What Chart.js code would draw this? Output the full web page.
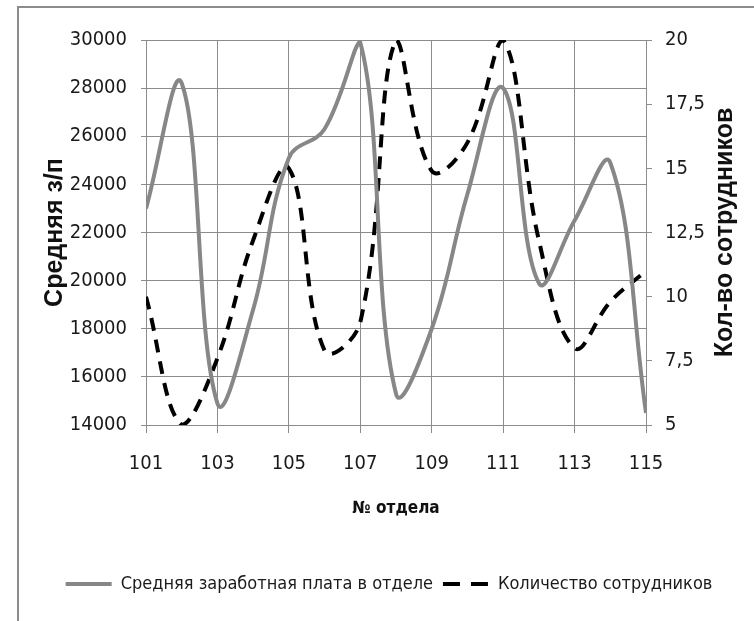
<!DOCTYPE html>
<html>
<head>
<meta charset="utf-8">
<script src="https://cdn.jsdelivr.net/npm/chart.js@4.4.1/dist/chart.umd.min.js"></script>
<style>
  html, body { margin: 0; padding: 0; background: #fff; }
  #wrap { position: relative; width: 754px; height: 621px; }
  #frame {
    position: absolute; left: 17px; top: 6px; right: -4px; bottom: -4px;
    border-left: 2px solid #8c8c8c; border-top: 2px solid #8c8c8c;
  }
  canvas { position: absolute; left: 0; top: 0; }
</style>
</head>
<body>
<div id="wrap">
  <div id="frame"></div>
  <canvas id="chart" width="754" height="621"></canvas>
</div>
<script>
// Department numbers and the two series
const departments = [101, 102, 103, 104, 105, 106, 107, 108, 109, 110, 111, 112, 113, 114, 115];
const salary = [23000, 28200, 14900, 18800, 25100, 26300, 29900, 15300, 18000, 23600, 28000, 19900, 22500, 24900, 14500];
const staff = [10, 5, 7.6, 12.2, 15, 7.9, 9, 20, 14.9, 16, 20, 12.2, 8, 9.8, 11];

const seriesNames = ['Средняя заработная плата в отделе', 'Количество сотрудников'];
const axisTitles = { x: '№ отдела', left: 'Средняя з/п', right: 'Кол-во сотрудников' };

const NARROW = "'DejaVu Sans Condensed', 'DejaVu Sans', sans-serif";
const WIDE = "'Liberation Sans', Arial, sans-serif";
const GRID = '#8c8c8c';
const TEXT = '#1a1a1a';

// Turn 17.5 into 17,5
const commaNumber = (v) => String(v).replace('.', ',');

const toPoints = (values) => departments.map((d, i) => ({ x: d, y: values[i] }));

// Right axis title reads bottom-to-top like the left one
const rightTitle = {
  id: 'rightTitle',
  afterDraw(chart) {
    const { ctx, chartArea } = chart;
    const scale = chart.scales.y1;
    ctx.save();
    ctx.translate(scale.right - 29, (chartArea.top + chartArea.bottom) / 2);
    ctx.rotate(-Math.PI / 2);
    ctx.textAlign = 'center';
    ctx.textBaseline = 'middle';
    ctx.fillStyle = '#111';
    ctx.font = `bold 25px ${WIDE}`;
    ctx.fillText(axisTitles.right, 0, 0);
    ctx.restore();
  },
};

new Chart(document.getElementById('chart'), {
  type: 'line',
  data: {
    datasets: [
      {
        label: seriesNames[0],
        data: toPoints(salary),
        yAxisID: 'y',
        borderColor: '#878787',
        backgroundColor: '#878787',
        borderWidth: 4,
        pointRadius: 0,
        tension: 0.4,
      },
      {
        label: seriesNames[1],
        data: toPoints(staff),
        yAxisID: 'y1',
        borderColor: '#000',
        backgroundColor: '#000',
        borderWidth: 4,
        borderDash: [13, 9],
        pointRadius: 0,
        tension: 0.4,
      },
    ],
  },
  options: {
    responsive: false,
    animation: false,
    events: [],
    layout: { padding: { top: 40, left: 24, right: 0, bottom: 18 } },
    scales: {
      x: {
        type: 'linear',
        min: 101,
        max: 115,
        afterFit: (s) => { s.height = 140; },
        ticks: { stepSize: 2, padding: 19, color: TEXT, font: { family: NARROW, size: 20 } },
        grid: { color: GRID, tickLength: 8 },
        border: { color: GRID },
        title: {
          display: true,
          text: axisTitles.x,
          color: '#111',
          font: { family: NARROW, size: 17, weight: 'bold' },
          padding: { top: 0, bottom: 46 },
        },
      },
      y: {
        position: 'left',
        min: 14000,
        max: 30000,
        afterFit: (s) => { s.width = 122; },
        ticks: {
          stepSize: 2000,
          padding: 14,
          color: TEXT,
          font: { family: NARROW, size: 20 },
          callback: (v) => String(v),
        },
        grid: { color: GRID, tickLength: 5 },
        border: { color: GRID },
        title: {
          display: true,
          text: axisTitles.left,
          color: '#111',
          font: { family: WIDE, size: 25, weight: 'bold' },
          padding: { top: 16, bottom: 0 },
        },
      },
      y1: {
        position: 'right',
        min: 5,
        max: 20,
        afterFit: (s) => { s.width = 108; },
        ticks: {
          stepSize: 2.5,
          padding: 13,
          color: TEXT,
          font: { family: NARROW, size: 20 },
          callback: (v) => commaNumber(v),
        },
        grid: { drawOnChartArea: false, color: GRID, tickLength: 6 },
        border: { color: GRID },
      },
    },
    plugins: {
      tooltip: { enabled: false },
      legend: {
        position: 'bottom',
        labels: {
          color: TEXT,
          font: { family: NARROW, size: 18 },
          usePointStyle: true,
          pointStyle: 'line',
          pointStyleWidth: 46,
          padding: 10,
          generateLabels: (chart) => {
            const items = Chart.defaults.plugins.legend.labels.generateLabels(chart);
            items[1].lineDash = [17, 11];
            return items;
          },
        },
      },
    },
  },
  plugins: [rightTitle],
});
</script>
</body>
</html>
